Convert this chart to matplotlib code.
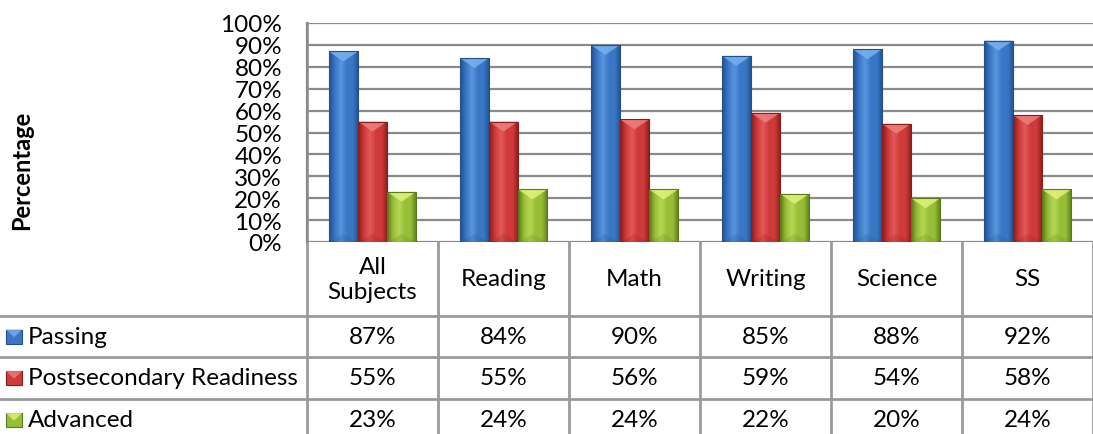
import numpy as np
import matplotlib
matplotlib.use("Agg")
import matplotlib.pyplot as plt
from matplotlib.patches import Rectangle, Polygon
from matplotlib.colors import LinearSegmentedColormap
from matplotlib.lines import Line2D

# ---------------- data ----------------
categories = ["All\nSubjects", "Reading", "Math", "Writing", "Science", "SS"]
series_names = ["Passing", "Postsecondary Readiness", "Advanced"]
passing = [87, 84, 90, 85, 88, 92]
postsecondary = [55, 55, 56, 59, 54, 58]
advanced = [23, 24, 24, 22, 20, 24]
y_ticks = [0, 10, 20, 30, 40, 50, 60, 70, 80, 90, 100]
y_tick_labels = [f"{t}%" for t in y_ticks]
y_label = "Percentage"

series_values = [passing, postsecondary, advanced]
# (dark edge, base, light, bevel top)
series_colors = [
    ("#23508C", "#3A77C6", "#5A95DD", "#79B0EE"),
    ("#8A1C1C", "#CF3A3A", "#E25858", "#EE7F7F"),
    ("#5C7A1A", "#98BE38", "#B5D852", "#E0F27E"),
]

plt.rcParams['font.family'] = ['Lato', 'DejaVu Sans']
FS = 17.5

W, H = 1093, 435
fig = plt.figure(figsize=(W / 100, H / 100), dpi=100)
ax_left, ax_right, ax_top, ax_bot = 307, W, 24, 243
ax = fig.add_axes([ax_left / W, (H - ax_bot) / H, (ax_right - ax_left) / W, (ax_bot - ax_top) / H])
ax_w_px = ax_right - ax_left
ax_h_px = ax_bot - ax_top

n = len(categories)
bw = 1 / 4.5
x = np.arange(n)

grid_col = "#8a8a8a"
for t in y_ticks:
    ax.axhline(t, color=grid_col, lw=1.6, zorder=1)

bevel_dy = 10 / ax_h_px * 100  # ~10 px deep bevel in data units

for j, (vals, cols) in enumerate(zip(series_values, series_colors)):
    dark, base, light, top = cols
    cmap = LinearSegmentedColormap.from_list(
        f"g{j}", [dark, base, light, base, base, dark])
    grad = np.linspace(0, 1, 64).reshape(1, -1)
    for i, v in enumerate(vals):
        x0 = x[i] + (j - 1.5) * bw
        x1 = x0 + bw
        rect = Rectangle((x0, 0), bw, v, facecolor="none", edgecolor=dark,
                         lw=0.8, zorder=4)
        ax.add_patch(rect)
        im = ax.imshow(grad, cmap=cmap, extent=[x0, x1, 0, v], aspect="auto",
                       zorder=3, interpolation="bilinear")
        im.set_clip_path(rect)
        xc = (x0 + x1) / 2
        tri = Polygon([(x0, v), (x1, v), (xc, v - bevel_dy)], closed=True,
                      facecolor=top, edgecolor="none", alpha=0.85, zorder=3.5)
        ax.add_patch(tri)
        tri2 = Polygon([(x0, 0), (x1, 0), (xc, bevel_dy * 0.8)], closed=True,
                       facecolor=dark, edgecolor="none", alpha=0.2, zorder=3.5)
        ax.add_patch(tri2)

ax.set_xlim(-0.5, n - 0.5)
ax.set_ylim(0, 100)
ax.set_yticks(y_ticks)
ax.set_yticklabels(y_tick_labels, fontsize=FS)
ax.set_xticks([])
ax.tick_params(axis="y", length=0, pad=18)
for s in ["top", "right", "bottom"]:
    ax.spines[s].set_visible(False)
ax.spines["left"].set_color(grid_col)
ax.spines["left"].set_linewidth(1.6)

# ---------------- data table ----------------
def af(px_y):
    return -(px_y - ax_bot) / ax_h_px

def afx(px_x):
    return (px_x - ax_left) / ax_w_px

y_head = af(317)
y_r1 = af(358)
y_r2 = af(400)
y_bottom = af(H + 2)
tab_col = "#9a9a9a"
xtrans = ax.get_xaxis_transform()

for yy in (y_head, y_r1, y_r2):
    ax.add_line(Line2D([afx(0), 1], [yy, yy], transform=ax.transAxes,
                       color=tab_col, lw=2, clip_on=False))
# left border of the table / plot
ax.add_line(Line2D([-0.5, -0.5], [1, y_bottom], transform=xtrans,
                   color=tab_col, lw=2, clip_on=False))
for i in range(1, n + 1):
    ax.add_line(Line2D([i - 0.5, i - 0.5], [0, y_bottom], transform=xtrans,
                       color=tab_col, lw=2, clip_on=False))

y_head_c = y_head / 2
row_centers = [(y_head + y_r1) / 2, (y_r1 + y_r2) / 2, af(421)]
for i, c in enumerate(categories):
    ax.text(i, y_head_c, c, transform=xtrans, ha="center", va="center",
            fontsize=FS, linespacing=1.2, clip_on=False)
for j, vals in enumerate(series_values):
    for i, v in enumerate(vals):
        ax.text(i, row_centers[j], f"{v}%", transform=xtrans, ha="center",
                va="center", fontsize=FS, clip_on=False)
    dark, base, light, top = series_colors[j]
    kx0, kx1 = afx(6), afx(22)
    kh = 14 / ax_h_px
    ky0 = row_centers[j] - kh / 2
    ax.add_patch(Rectangle((kx0, ky0), kx1 - kx0, kh, transform=ax.transAxes,
                           facecolor=base, edgecolor=dark, lw=0.8, clip_on=False))
    ax.add_patch(Polygon([(kx0, ky0 + kh), (kx1, ky0 + kh), ((kx0 + kx1) / 2, ky0 + kh * 0.45)],
                         transform=ax.transAxes, facecolor=top, edgecolor="none",
                         alpha=0.8, clip_on=False))
    ax.text(afx(28), row_centers[j], series_names[j], transform=ax.transAxes,
            ha="left", va="center", fontsize=FS, clip_on=False)

fig.text(22 / W, (H - 170) / H, y_label, rotation=90, ha="center", va="center",
         fontsize=17, fontweight="bold")

fig.savefig("out.png", dpi=100)
